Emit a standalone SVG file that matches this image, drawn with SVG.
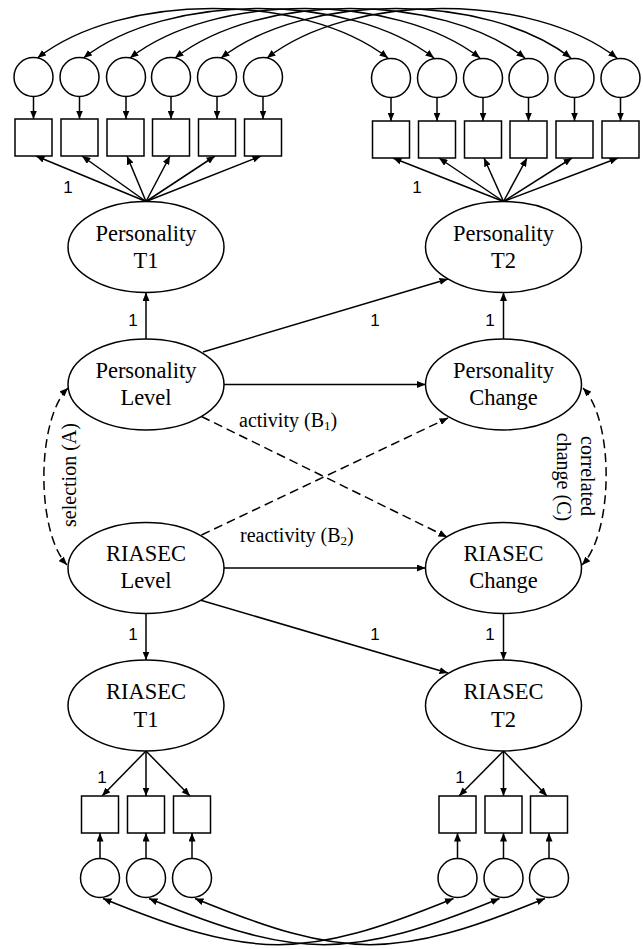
<svg xmlns="http://www.w3.org/2000/svg" width="643" height="949" viewBox="0 0 643 949">
<style>
.ln{fill:none;stroke:#000;stroke-width:1.5}
.sh{fill:#fff;stroke:#000;stroke-width:1.5}
.ds{fill:none;stroke:#000;stroke-width:1.5;stroke-dasharray:9,5}
.nl{font-family:"Liberation Serif","Times New Roman",serif;font-size:22.5px;text-anchor:middle;fill:#000}
.an{font-family:"Liberation Serif","Times New Roman",serif;font-size:20px;fill:#000}
.one{font-family:"Liberation Sans",Arial,sans-serif;font-size:17px;text-anchor:middle;fill:#000}
</style>
<defs>
<marker id="ah" markerUnits="userSpaceOnUse" markerWidth="9" markerHeight="7" refX="8.5" refY="3.5" orient="auto-start-reverse">
<path d="M0,0 L8.5,3.5 L0,7 z" fill="#000"/>
</marker>
</defs>

<g id="connectors">
<!-- top residual covariances -->
<path class="ln" marker-start="url(#ah)" marker-end="url(#ah)" d="M37.5,58 C122,-8 303,-8 388,58"/>
<path class="ln" marker-start="url(#ah)" marker-end="url(#ah)" d="M83.5,58 C168,-8 349,-8 434,58"/>
<path class="ln" marker-start="url(#ah)" marker-end="url(#ah)" d="M130,58 C215,-8 395,-8 480,58"/>
<path class="ln" marker-start="url(#ah)" marker-end="url(#ah)" d="M175,58 C260,-8 440,-8 525,58"/>
<path class="ln" marker-start="url(#ah)" marker-end="url(#ah)" d="M221,58 C306,-8 486,-8 571,58"/>
<path class="ln" marker-start="url(#ah)" marker-end="url(#ah)" d="M267,58 C352,-8 532,-8 617,58"/>
<!-- top residual arrows -->
<path class="ln" marker-end="url(#ah)" d="M33.5,96.5 V119"/>
<path class="ln" marker-end="url(#ah)" d="M79.5,96.5 V119"/>
<path class="ln" marker-end="url(#ah)" d="M126,96.5 V119"/>
<path class="ln" marker-end="url(#ah)" d="M171,96.5 V119"/>
<path class="ln" marker-end="url(#ah)" d="M217,96.5 V119"/>
<path class="ln" marker-end="url(#ah)" d="M263,96.5 V119"/>
<path class="ln" marker-end="url(#ah)" d="M391,97.5 V121"/>
<path class="ln" marker-end="url(#ah)" d="M437,97.5 V121"/>
<path class="ln" marker-end="url(#ah)" d="M483,97.5 V121"/>
<path class="ln" marker-end="url(#ah)" d="M528.5,97.5 V121"/>
<path class="ln" marker-end="url(#ah)" d="M574.5,97.5 V121"/>
<path class="ln" marker-end="url(#ah)" d="M620.5,97.5 V121"/>
<!-- Personality T1 loadings -->
<path class="ln" marker-end="url(#ah)" d="M146,201.5 L36,156"/>
<path class="ln" marker-end="url(#ah)" d="M146,201.5 L82,156"/>
<path class="ln" marker-end="url(#ah)" d="M146,201.5 L127,156"/>
<path class="ln" marker-end="url(#ah)" d="M146,201.5 L170,156"/>
<path class="ln" marker-end="url(#ah)" d="M146,201.5 L215,156"/>
<path class="ln" marker-end="url(#ah)" d="M146,201.5 L261,156"/>
<!-- Personality T2 loadings -->
<path class="ln" marker-end="url(#ah)" d="M503.5,201.5 L393,158"/>
<path class="ln" marker-end="url(#ah)" d="M503.5,201.5 L439,158"/>
<path class="ln" marker-end="url(#ah)" d="M503.5,201.5 L484,158"/>
<path class="ln" marker-end="url(#ah)" d="M503.5,201.5 L527,158"/>
<path class="ln" marker-end="url(#ah)" d="M503.5,201.5 L572,158"/>
<path class="ln" marker-end="url(#ah)" d="M503.5,201.5 L618,158"/>
<!-- structural paths -->
<path class="ln" marker-end="url(#ah)" d="M146,339 V292.5"/>
<path class="ln" marker-end="url(#ah)" d="M503.5,339 V292.5"/>
<path class="ln" marker-end="url(#ah)" d="M203,352 L448,279"/>
<path class="ln" marker-end="url(#ah)" d="M224,384.5 H425.5"/>
<path class="ln" marker-end="url(#ah)" d="M224,568 H425.5"/>
<path class="ln" marker-end="url(#ah)" d="M200,600 L448,673"/>
<path class="ln" marker-end="url(#ah)" d="M146,613.5 V660"/>
<path class="ln" marker-end="url(#ah)" d="M503.5,613.5 V660"/>
<!-- dashed cross-lagged -->
<path class="ds" marker-end="url(#ah)" d="M201.5,416.5 L447,537"/>
<path class="ds" marker-end="url(#ah)" d="M201.5,535 L448,418"/>
<!-- dashed covariances -->
<path class="ds" marker-start="url(#ah)" marker-end="url(#ah)" d="M68,388 C36,420 36,532 67,565"/>
<path class="ds" marker-start="url(#ah)" marker-end="url(#ah)" d="M583,388 C614,420 614,532 582,565"/>
<!-- RIASEC T1 loadings -->
<path class="ln" marker-end="url(#ah)" d="M146,751 L102,796"/>
<path class="ln" marker-end="url(#ah)" d="M146,751 V796"/>
<path class="ln" marker-end="url(#ah)" d="M146,751 L190,796"/>
<!-- RIASEC T2 loadings -->
<path class="ln" marker-end="url(#ah)" d="M503.5,751 L459,796"/>
<path class="ln" marker-end="url(#ah)" d="M503.5,751 V796"/>
<path class="ln" marker-end="url(#ah)" d="M503.5,751 L547,796"/>
<!-- bottom residual arrows -->
<path class="ln" marker-end="url(#ah)" d="M100,858.5 V833"/>
<path class="ln" marker-end="url(#ah)" d="M146,858.5 V833"/>
<path class="ln" marker-end="url(#ah)" d="M192,858.5 V833"/>
<path class="ln" marker-end="url(#ah)" d="M457.5,858.5 V833"/>
<path class="ln" marker-end="url(#ah)" d="M503.5,858.5 V833"/>
<path class="ln" marker-end="url(#ah)" d="M549,858.5 V833"/>
<!-- bottom residual covariances -->
<path class="ln" marker-start="url(#ah)" marker-end="url(#ah)" d="M103,898.5 C253,960 303,960 453.5,898.5"/>
<path class="ln" marker-start="url(#ah)" marker-end="url(#ah)" d="M149,898.5 C299,960 349,960 499.5,898.5"/>
<path class="ln" marker-start="url(#ah)" marker-end="url(#ah)" d="M195,898.5 C345,960 395,960 545,898.5"/>
</g>

<g id="labels">
<text class="one" x="68" y="193">1</text>
<text class="one" x="417" y="193">1</text>
<text class="one" x="133" y="326">1</text>
<text class="one" x="375" y="326">1</text>
<text class="one" x="490" y="326">1</text>
<text class="one" x="133" y="640">1</text>
<text class="one" x="375" y="640">1</text>
<text class="one" x="490" y="640">1</text>
<text class="one" x="102" y="783">1</text>
<text class="one" x="460" y="783">1</text>
<text class="an" x="239" y="427">activity (B<tspan font-size="13" dy="3">1</tspan><tspan dy="-3">)</tspan></text>
<text class="an" x="240" y="541.5">reactivity (B<tspan font-size="13" dy="3">2</tspan><tspan dy="-3">)</tspan></text>
<text class="an" text-anchor="middle" transform="translate(76,475) rotate(-90)">selection (A)</text>
<text class="an" text-anchor="middle" transform="translate(580.5,476) rotate(90)">correlated</text>
<text class="an" text-anchor="middle" transform="translate(556.5,477) rotate(90)">change (C)</text>
</g>

<g id="pers-residuals-t1">
<circle class="sh" cx="33.5" cy="77" r="19.5"/>
<circle class="sh" cx="79.5" cy="77" r="19.5"/>
<circle class="sh" cx="126" cy="77" r="19.5"/>
<circle class="sh" cx="171" cy="77" r="19.5"/>
<circle class="sh" cx="217" cy="77" r="19.5"/>
<circle class="sh" cx="263" cy="77" r="19.5"/>
</g>
<g id="pers-indicators-t1">
<rect class="sh" x="15" y="119" width="37" height="37"/>
<rect class="sh" x="61" y="119" width="37" height="37"/>
<rect class="sh" x="107" y="119" width="37" height="37"/>
<rect class="sh" x="152.5" y="119" width="37" height="37"/>
<rect class="sh" x="198.5" y="119" width="37" height="37"/>
<rect class="sh" x="244.5" y="119" width="37" height="37"/>
</g>
<g id="pers-residuals-t2">
<circle class="sh" cx="391" cy="78" r="19.5"/>
<circle class="sh" cx="437" cy="78" r="19.5"/>
<circle class="sh" cx="483" cy="78" r="19.5"/>
<circle class="sh" cx="528.5" cy="78" r="19.5"/>
<circle class="sh" cx="574.5" cy="78" r="19.5"/>
<circle class="sh" cx="620.5" cy="78" r="19.5"/>
</g>
<g id="pers-indicators-t2">
<rect class="sh" x="372.5" y="121" width="37" height="37"/>
<rect class="sh" x="418.5" y="121" width="37" height="37"/>
<rect class="sh" x="464.5" y="121" width="37" height="37"/>
<rect class="sh" x="510" y="121" width="37" height="37"/>
<rect class="sh" x="556" y="121" width="37" height="37"/>
<rect class="sh" x="602" y="121" width="37" height="37"/>
</g>

<g id="personality-t1">
<ellipse class="sh" cx="146" cy="247" rx="78" ry="45.5"/>
<text class="nl" x="146" y="240.5">Personality</text>
<text class="nl" x="146" y="267.5">T1</text>
</g>
<g id="personality-t2">
<ellipse class="sh" cx="503.5" cy="247" rx="78" ry="45.5"/>
<text class="nl" x="503.5" y="240.5">Personality</text>
<text class="nl" x="503.5" y="267.5">T2</text>
</g>
<g id="personality-level">
<ellipse class="sh" cx="146" cy="384.5" rx="78" ry="45.5"/>
<text class="nl" x="146" y="378">Personality</text>
<text class="nl" x="146" y="405">Level</text>
</g>
<g id="personality-change">
<ellipse class="sh" cx="503.5" cy="384.5" rx="78" ry="45.5"/>
<text class="nl" x="503.5" y="378">Personality</text>
<text class="nl" x="503.5" y="405">Change</text>
</g>
<g id="riasec-level">
<ellipse class="sh" cx="146" cy="568" rx="78" ry="45.5"/>
<text class="nl" x="146" y="561">RIASEC</text>
<text class="nl" x="146" y="588">Level</text>
</g>
<g id="riasec-change">
<ellipse class="sh" cx="503.5" cy="568" rx="78" ry="45.5"/>
<text class="nl" x="503.5" y="561">RIASEC</text>
<text class="nl" x="503.5" y="588">Change</text>
</g>
<g id="riasec-t1">
<ellipse class="sh" cx="146" cy="705.5" rx="78" ry="45.5"/>
<text class="nl" x="146" y="699">RIASEC</text>
<text class="nl" x="146" y="726.5">T1</text>
</g>
<g id="riasec-t2">
<ellipse class="sh" cx="503.5" cy="705.5" rx="78" ry="45.5"/>
<text class="nl" x="503.5" y="699">RIASEC</text>
<text class="nl" x="503.5" y="726.5">T2</text>
</g>

<g id="riasec-indicators-t1">
<rect class="sh" x="81.5" y="796" width="37" height="37"/>
<rect class="sh" x="127.5" y="796" width="37" height="37"/>
<rect class="sh" x="173.5" y="796" width="37" height="37"/>
</g>
<g id="riasec-residuals-t1">
<circle class="sh" cx="100" cy="878" r="19.5"/>
<circle class="sh" cx="146" cy="878" r="19.5"/>
<circle class="sh" cx="192" cy="878" r="19.5"/>
</g>
<g id="riasec-indicators-t2">
<rect class="sh" x="439" y="796" width="37" height="37"/>
<rect class="sh" x="485" y="796" width="37" height="37"/>
<rect class="sh" x="530.5" y="796" width="37" height="37"/>
</g>
<g id="riasec-residuals-t2">
<circle class="sh" cx="457.5" cy="878" r="19.5"/>
<circle class="sh" cx="503.5" cy="878" r="19.5"/>
<circle class="sh" cx="549" cy="878" r="19.5"/>
</g>
</svg>
